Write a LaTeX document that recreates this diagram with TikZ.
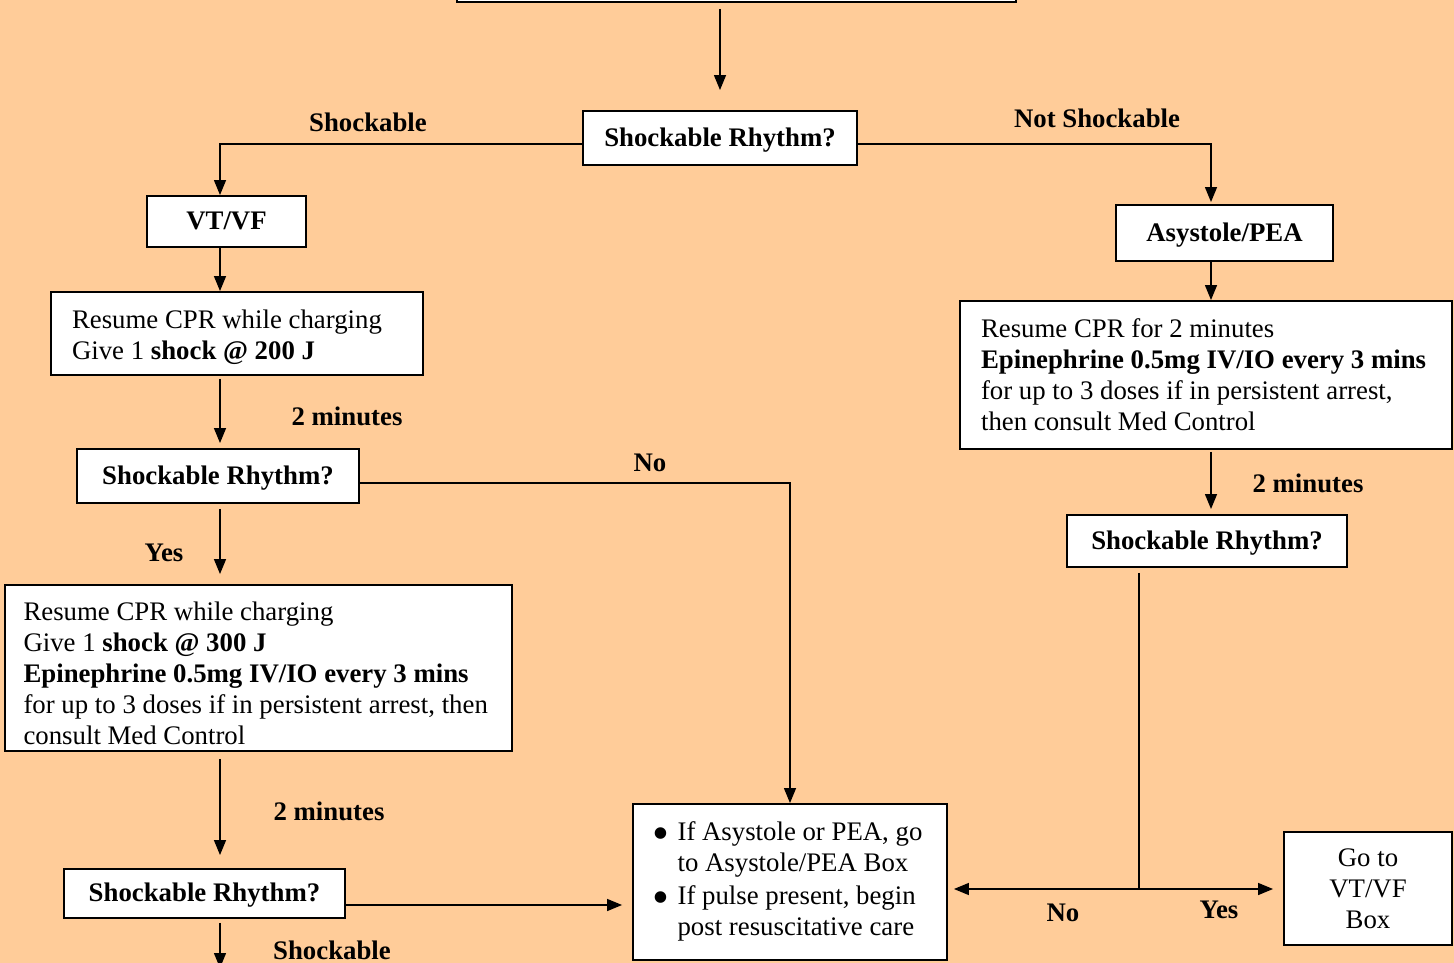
\documentclass[tikz,border=0pt]{standalone}
\usepackage{fontspec}
\setmainfont{Liberation Serif}
\usetikzlibrary{positioning,arrows.meta}
\definecolor{peach}{RGB}{255,204,153}
\newcommand{\bigdot}{\makebox[0.40cm][l]{\hspace{-0.1cm}\raisebox{-0.32em}{\scalebox{1.8}{\textbullet}}}}

\begin{document}
\begin{tikzpicture}[x=0.02cm,y=-0.02cm,
        box/.style={draw,fill=white,line width=1.1pt,inner sep=0pt,
            font=\fontsize{15.25pt}{17.6pt}\selectfont},
        qbox/.style={box,text height=11pt,text depth=1.5pt,
            font=\fontsize{15.25pt}{17.6pt}\selectfont\bfseries},
        txtbox/.style={box,align=flush left,inner xsep=0.42cm},
        lbl/.style={inner sep=0pt,font=\fontsize{15.25pt}{17.6pt}\selectfont\bfseries},
        arr/.style={line width=0.8pt,-{Triangle[length=0.3cm,width=0.24cm]}},
        wire/.style={line width=0.8pt}]
        \fill[peach] (0,0) rectangle (1454,963);
        \useasboundingbox (0,0) rectangle (1454,963);

        % boxes
        \node[box,minimum width=11.18cm,minimum height=1.6cm] (start) at (736.5,-38) {};
        \node[qbox,minimum width=5.48cm,minimum height=1.08cm] (q1) at (720,138) {Shockable Rhythm?};
        \node[qbox,minimum width=3.18cm,minimum height=1.02cm] (vtvf) at (226.5,221.5) {VT/VF};
        \node[txtbox,text width=6.60cm,minimum height=1.66cm] (cpr1) at (237,333.5)
            {\rule{0pt}{14.5pt}Resume CPR while charging\\Give 1 \textbf{shock @ 200 J}};
        \node[qbox,minimum width=5.64cm,minimum height=1.08cm] (q2) at (218,476) {Shockable Rhythm?};
        \node[txtbox,text width=9.40cm,inner xsep=0.38cm,minimum height=3.32cm] (cpr2) at (258.5,668)
            {\rule{0pt}{16.5pt}Resume CPR while charging\\Give 1 \textbf{shock @ 300 J}\\
             \textbf{Epinephrine 0.5mg IV/IO every 3 mins}\\
             for up to 3 doses if in persistent arrest, then\\consult Med Control};
        \node[qbox,minimum width=5.62cm,minimum height=0.98cm] (q3) at (204.5,893.5) {Shockable Rhythm?};
        \node[box,minimum width=6.28cm,minimum height=3.12cm] (info) at (790,882)
            {\begin{tabular}{@{}l@{}l@{}}
             \bigdot & If Asystole or PEA, go\\
                     & to Asystole/PEA Box\\[1pt]
             \bigdot & If pulse present, begin\\
                     & post resuscitative care
             \end{tabular}};
        \node[qbox,minimum width=4.34cm,minimum height=1.12cm] (asys) at (1224.5,233) {Asystole/PEA};
        \node[txtbox,text width=9.00cm,minimum height=2.96cm] (cpr3) at (1206,375)
            {Resume CPR for 2 minutes\\\textbf{Epinephrine 0.5mg IV/IO every 3 mins}\\
             for up to 3 doses if in persistent arrest,\\then consult Med Control};
        \node[qbox,minimum width=5.60cm,minimum height=1.04cm] (q4) at (1207,541) {Shockable Rhythm?};
        \node[box,align=center,minimum width=3.36cm,minimum height=2.26cm] (goto) at (1368,888.5)
            {Go to\\VT/VF\\Box};

        % labels
        \node[lbl] (lshock) at (368,122) {Shockable};
        \node[lbl] (lnot) at (1097,118) {Not Shockable};
        \node[lbl] (lmin1) at (347,416) {2 minutes};
        \node[lbl] (lno1) at (650,463) {No};
        \node[lbl] (lyes1) at (164,553) {Yes};
        \node[lbl] (lmin2) at (329,811) {2 minutes};
        \node[lbl] (lshock2) at (332,950) {Shockable};
        \node[lbl] (lmin3) at (1308,483) {2 minutes};
        \node[lbl] (lno2) at (1063,913) {No};
        \node[lbl] (lyes2) at (1219,910) {Yes};

        \coordinate (colL) at (220,0);
        \coordinate (colR) at (1211,0);
        \coordinate (join) at (1139,889);
        \coordinate (next) at (220,968);
        \coordinate (q3out) at ([yshift=-0.23cm]q3.east);

        % connectors
        \draw[arr,shorten <=0.12cm,shorten >=0.4cm] (start.south -| q1.north) -- (q1.north);
        \draw[arr] ([yshift=-0.12cm]q1.west) -| (vtvf.north -| colL);
        \draw[arr,shorten >=0.04cm] ([yshift=-0.12cm]q1.east) -| (asys.north -| colR);
        \draw[arr] (vtvf.south -| colL) -- (cpr1.north -| colL);
        \draw[arr,shorten <=0.06cm,shorten >=0.1cm] (cpr1.south -| colL) -- (q2.north -| colL);
        \draw[arr,shorten <=0.1cm,shorten >=0.2cm] (q2.south -| colL) -- (cpr2.north -| colL);
        \draw[arr,shorten <=0.14cm,shorten >=0.26cm] (cpr2.south -| colL) -- (q3.north -| colL);
        \draw[arr,shorten <=0.08cm] (q3.south -| colL) -- (next);
        \draw[arr] ([yshift=-0.14cm]q2.east) -| (info.north);
        \draw[arr,shorten >=0.2cm] (q3out) -- (q3out -| info.west);
        \draw[arr] (asys.south -| colR) -- (cpr3.north -| colR);
        \draw[arr,shorten <=0.04cm,shorten >=0.1cm] (cpr3.south -| colR) -- (q4.north -| colR);
        \draw[wire,shorten <=0.1cm] (q4.south -| join) -- (join);
        \draw[arr,shorten >=0.12cm] (join) -- (join -| info.east);
        \draw[arr,shorten >=0.2cm] (join) -- (join -| goto.west);
\end{tikzpicture}
\end{document}
